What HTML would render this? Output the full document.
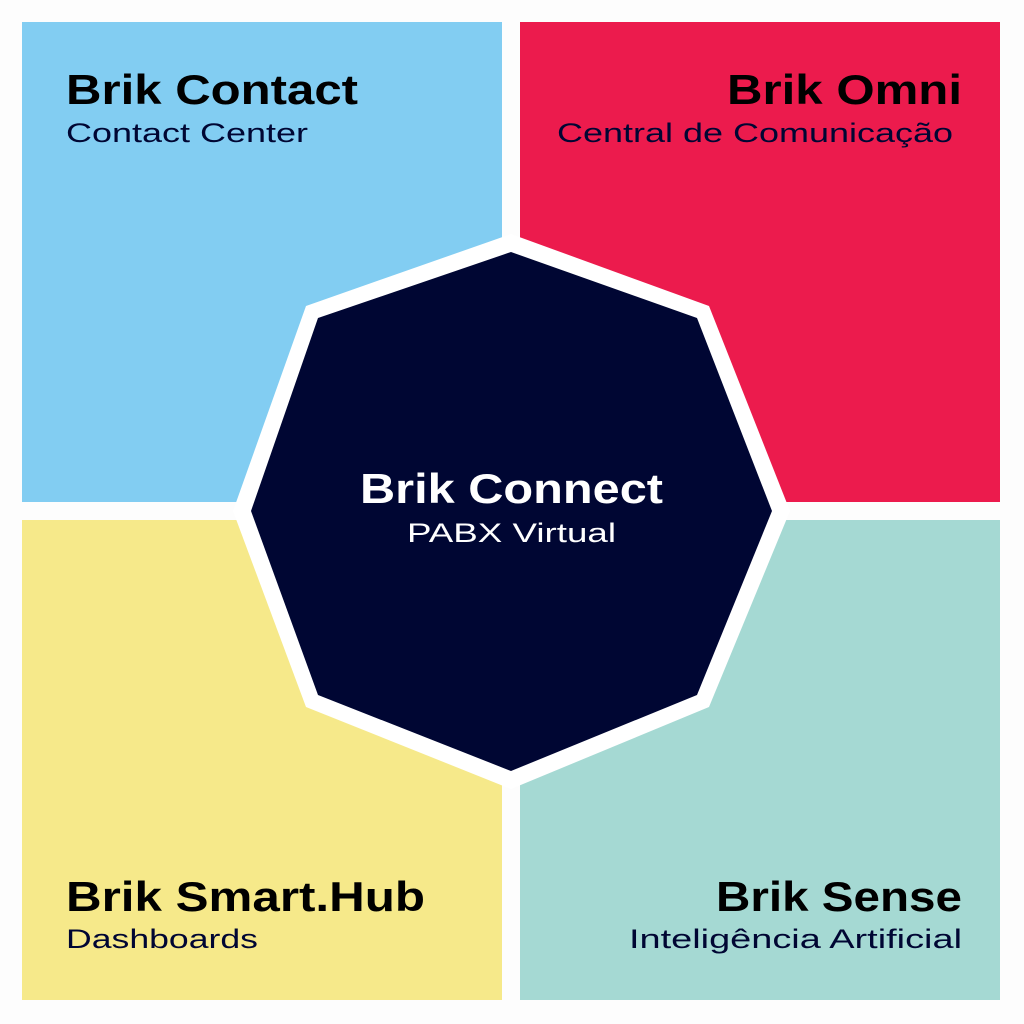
<!DOCTYPE html>
<html><head><meta charset="utf-8"><style>html,body{margin:0;padding:0;background:#fff}svg{display:block}</style></head>
<body>
<svg width="1024" height="1024" viewBox="0 0 1024 1024" xmlns="http://www.w3.org/2000/svg">
<rect width="1024" height="1024" fill="#fdfdfd"/>
<rect x="22" y="22" width="480" height="480" fill="#82CDF2"/>
<rect x="520" y="22" width="480" height="480" fill="#EC1B4D"/>
<rect x="22" y="520" width="480" height="480" fill="#F6E98A"/>
<rect x="520" y="520" width="480" height="480" fill="#A5D9D3"/>
<polygon points="511,234 709,306 790,511 709,707 511,789 306,707 233,511 306,306" fill="#fff"/>
<polygon points="511,252 697,318 772,511 697,695 511,771 318,695 251,511 318,318" fill="#000633"/>
<g font-family="Liberation Sans, sans-serif">
<text x="66" y="104" font-size="42" font-weight="bold" fill="#000" textLength="292" lengthAdjust="spacingAndGlyphs">Brik Contact</text>
<text x="66" y="142" font-size="27" fill="#000633" textLength="242" lengthAdjust="spacingAndGlyphs">Contact Center</text>
<text x="727" y="104" font-size="42" font-weight="bold" fill="#000" textLength="235" lengthAdjust="spacingAndGlyphs">Brik Omni</text>
<text x="557" y="142" font-size="27" fill="#000633" textLength="396" lengthAdjust="spacingAndGlyphs">Central de Comunicação</text>
<text x="360" y="503" font-size="42" font-weight="bold" fill="#fff" textLength="303" lengthAdjust="spacingAndGlyphs">Brik Connect</text>
<text x="407" y="542" font-size="27" fill="#fff" textLength="209" lengthAdjust="spacingAndGlyphs">PABX Virtual</text>
<text x="66" y="911" font-size="42" font-weight="bold" fill="#000" textLength="359" lengthAdjust="spacingAndGlyphs">Brik Smart.Hub</text>
<text x="66" y="948" font-size="27" fill="#000633" textLength="192" lengthAdjust="spacingAndGlyphs">Dashboards</text>
<text x="716" y="911" font-size="42" font-weight="bold" fill="#000" textLength="246" lengthAdjust="spacingAndGlyphs">Brik Sense</text>
<text x="629" y="948" font-size="27" fill="#000633" textLength="333" lengthAdjust="spacingAndGlyphs">Inteligência Artificial</text>
</g>
</svg>
</body></html>
